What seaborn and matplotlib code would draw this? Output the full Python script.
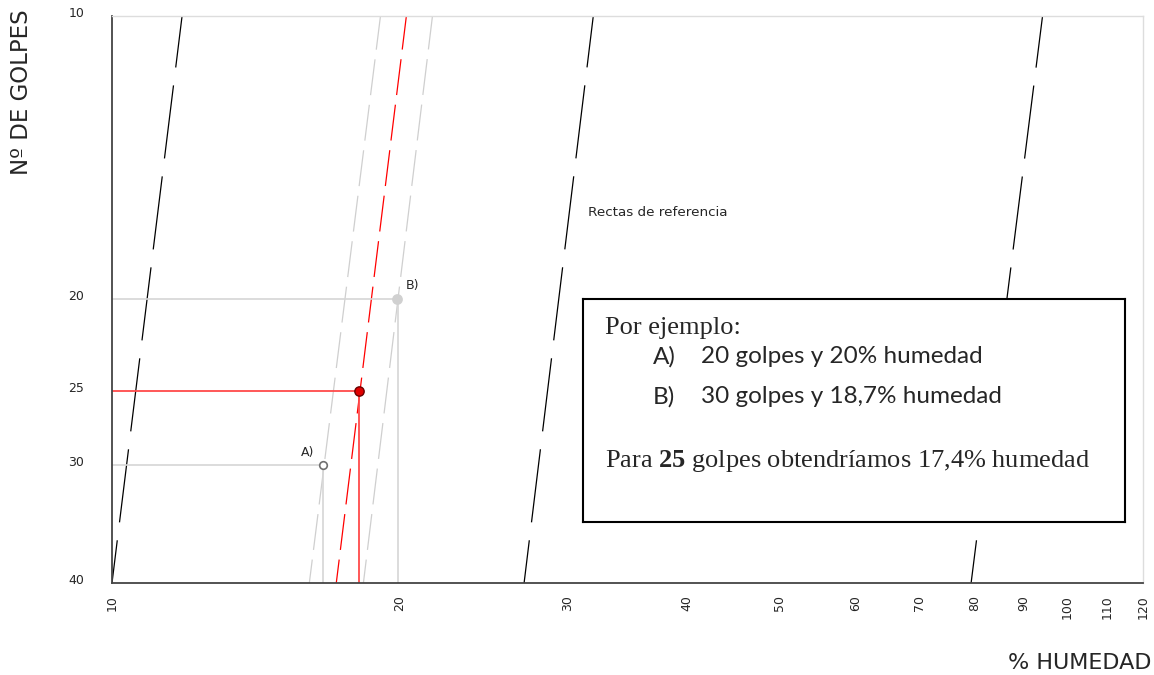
import matplotlib
matplotlib.use("Agg")
import pandas as pd
import matplotlib.pyplot as plt
import matplotlib.transforms as mtransforms
import seaborn as sns
from matplotlib.ticker import NullLocator

# Rectas de referencia: % humedad at 40 golpes and at 10 golpes
golpes_ext = [40, 10]
rectas_negras = [[10.0, 11.84], [27.0, 31.9], [79.3, 94.2]]
rectas_grises = [[16.09, 19.10], [18.33, 21.65]]
recta_roja = [17.17, 20.33]

# Example points
ej_labels = ["A)", "B)"]
ej_humedad = [16.64, 19.9]
ej_golpes = [30, 20]
rojo_humedad = 18.15
rojo_golpes = 25

x_ticks = [10, 20, 30, 40, 50, 60, 70, 80, 90, 100, 110, 120]
y_ticks = [10, 20, 25, 30, 40]

sns.set_style("white")
plt.rcParams["font.family"] = ["DejaVu Sans"]
plt.rcParams["lines.scale_dashes"] = False
plt.rcParams["mathtext.fontset"] = "custom"
plt.rcParams["mathtext.rm"] = "Liberation Serif"
plt.rcParams["mathtext.bf"] = "Liberation Serif:bold"

fig = plt.figure(figsize=(11.54, 6.75), dpi=100)
ax = fig.add_axes([0.09705, 0.1363, 0.8934, 0.8400])
ax.set_xscale("log")
ax.set_yscale("log")

# reference lines
df_neg = pd.DataFrame({
    "recta": [i for i, r in enumerate(rectas_negras) for _ in r],
    "humedad": [v for r in rectas_negras for v in r],
    "golpes": golpes_ext * len(rectas_negras),
})
sns.lineplot(data=df_neg, x="humedad", y="golpes", units="recta", estimator=None,
             sort=False, color="black", lw=0.9, linestyle=(22, (53, 13)), ax=ax)

df_gri = pd.DataFrame({
    "recta": [i for i, r in enumerate(rectas_grises) for _ in r],
    "humedad": [v for r in rectas_grises for v in r],
    "golpes": golpes_ext * len(rectas_grises),
})
sns.lineplot(data=df_gri, x="humedad", y="golpes", units="recta", estimator=None,
             sort=False, color="#cfcfcf", lw=0.9, linestyle=(9, (26, 7)), ax=ax)

sns.lineplot(x=recta_roja, y=golpes_ext, estimator=None, sort=False,
             color="#ff0000", lw=0.9, linestyle=(9, (26, 7)), ax=ax)

# guide lines to the axes
for h, g in zip(ej_humedad, ej_golpes):
    sns.lineplot(x=[10, h, h], y=[g, g, 40], estimator=None, sort=False,
                 color="#d6d6d6", lw=1.2, ax=ax)
sns.lineplot(x=[10, rojo_humedad, rojo_humedad], y=[rojo_golpes, rojo_golpes, 40],
             estimator=None, sort=False, color="#ff4a4a", lw=1.3, ax=ax)

# points
sns.scatterplot(x=[ej_humedad[0]], y=[ej_golpes[0]], s=30, color="white",
                edgecolor="#707070", linewidth=1.2, ax=ax, zorder=5)
sns.scatterplot(x=[ej_humedad[1]], y=[ej_golpes[1]], s=60, color="#d0d0d0",
                edgecolor="none", ax=ax, zorder=5)
sns.scatterplot(x=[rojo_humedad], y=[rojo_golpes], s=45, color="#e00000",
                edgecolor="#6a0000", linewidth=1, ax=ax, zorder=6)

ax.annotate(ej_labels[0], (ej_humedad[0], ej_golpes[0]), xytext=(-11, 9.5),
            textcoords="offset points", ha="center", va="center", fontsize=9)
ax.annotate(ej_labels[1], (ej_humedad[1], ej_golpes[1]), xytext=(11, 10),
            textcoords="offset points", ha="center", va="center", fontsize=9)

ax.text(0.4617, 0.654, "Rectas de referencia", transform=ax.transAxes,
        fontsize=9.7, va="center", ha="left")

ax.set_xlim(10, 120)
ax.set_ylim(40, 10)
ax.xaxis.set_minor_locator(NullLocator())
ax.yaxis.set_minor_locator(NullLocator())
ax.set_xticks(x_ticks)
ax.set_xticklabels([str(v) for v in x_ticks], rotation=90, fontsize=9)
ax.set_yticks(y_ticks)
ax.set_yticklabels([str(v) for v in y_ticks], fontsize=9)
ax.tick_params(axis="x", direction="inout", length=14, width=0.9, color="black", pad=2)
ax.tick_params(axis="y", direction="out", length=7, width=1, color="#555555", pad=13)
ax.xaxis.get_major_ticks()[0].tick1line.set_visible(False)
lift = mtransforms.ScaledTranslation(0, 3 / 72, fig.dpi_scale_trans)
for lab in ax.get_yticklabels():
    lab.set_transform(lab.get_transform() + lift)
ax.set_xlabel("")
ax.set_ylabel("")

for side in ["top", "right"]:
    ax.spines[side].set_color("#dddddd")
    ax.spines[side].set_linewidth(1)
for side in ["left", "bottom"]:
    ax.spines[side].set_color("#444444")
    ax.spines[side].set_linewidth(1.3)

fig.text(0.019, 0.986, "Nº DE GOLPES", rotation=90, ha="center", va="top", fontsize=16.5)
fig.text(0.998, 1 - 663 / 675, "% HUMEDAD", ha="right", va="center", fontsize=16)

# example box
bx = fig.add_axes([0.5052, 0.2267, 0.4697, 0.3304])
bx.set_facecolor("white")
bx.set_xticks([])
bx.set_yticks([])
for s in bx.spines.values():
    s.set_color("black")
    s.set_linewidth(1.5)
bx.set_xlim(0, 1)
bx.set_ylim(0, 1)
bx.text(0.0406, 0.870, "Por ejemplo:", family="Liberation Serif", fontsize=19,
        va="center", ha="left")
bx.text(0.1292, 0.740, "A)", family="Lato", fontsize=17.5, va="center", ha="left")
bx.text(0.2177, 0.740, "20 golpes y 20% humedad", family="Lato", fontsize=17.5,
        va="center", ha="left")
bx.text(0.1292, 0.561, "B)", family="Lato", fontsize=17.5, va="center", ha="left")
bx.text(0.2177, 0.561, "30 golpes y 18,7% humedad", family="Lato", fontsize=17.5,
        va="center", ha="left")
bx.text(0.0406, 0.274, r"Para $\mathbf{25}$ golpes obtendríamos 17,4% humedad",
        family="Liberation Serif", fontsize=19, va="center", ha="left")

fig.savefig("out.png", dpi=100)
